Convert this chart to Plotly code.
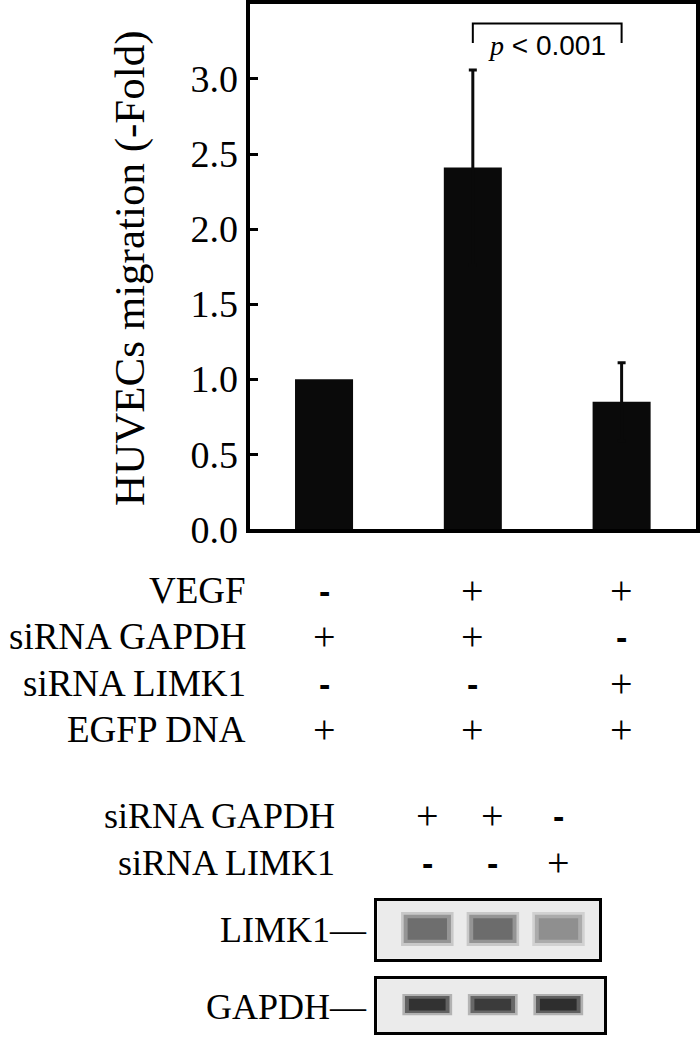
import plotly.graph_objects as go

# migration assay
groups = ["ctrl", "VEGF", "VEGF + siLIMK1"]
migration = [1.0, 2.41, 0.85]
migration_err = [None, 0.65, 0.26]
p_text = "p < 0.001"
bracket_top = 3.37
bracket_leg = 3.24

# treatment table under the bar chart
row_labels = ["VEGF", "siRNA GAPDH", "siRNA LIMK1", "EGFP DNA"]
row_signs = [
    ["-", "+", "+"],
    ["+", "+", "-"],
    ["-", "-", "+"],
    ["+", "+", "+"],
]

# western blot
blot_lanes = [0, 1, 2]
blot_row_labels = ["siRNA GAPDH", "siRNA LIMK1"]
blot_row_signs = [
    ["+", "+", "-"],
    ["-", "-", "+"],
]
limk1_intensity = [0.64, 0.65, 0.47]
gapdh_intensity = [0.88, 0.84, 0.9]

W, H = 700, 1055
SERIF = "Liberation Serif, Times New Roman, serif"
SANS = "Liberation Sans, Arial, sans-serif"
BAR_COLOR = "#0a0a0a"


def px_x(x):
    return x / W


def px_y(y):
    return 1 - y / H


def band_color(v, alpha):
    g = int(235 - 215 * v)
    return f"rgba({g},{g},{g},{alpha})"


def sign_text(s):
    return s if s == "+" else "<b>-</b>"


def sign_font(s):
    if s == "+":
        return {"family": SERIF, "size": 40, "color": "black"}
    return {"family": SANS, "size": 34, "color": "black"}


fig = go.Figure()

x_idx = list(range(len(groups)))
fig.add_trace(
    go.Bar(
        x=x_idx,
        y=migration,
        width=0.39,
        marker={"color": BAR_COLOR, "line": {"width": 0}},
        showlegend=False,
        hoverinfo="skip",
    )
)

# error bars only where an error was measured; the lower half hides inside the bar
err_x = [i for i, e in zip(x_idx, migration_err) if e is not None]
err_y = [m for m, e in zip(migration, migration_err) if e is not None]
err_v = [e for e in migration_err if e is not None]
fig.add_trace(
    go.Scatter(
        x=err_x,
        y=err_y,
        mode="markers",
        marker={"size": 1, "opacity": 0},
        error_y={"type": "data", "array": err_v, "color": BAR_COLOR,
                 "thickness": 3, "width": 4, "visible": True},
        showlegend=False,
        hoverinfo="skip",
    )
)

# significance bracket between VEGF and VEGF + siLIMK1
fig.add_trace(
    go.Scatter(
        x=[1, 1, 2, 2],
        y=[bracket_leg, bracket_top, bracket_top, bracket_leg],
        mode="lines",
        line={"color": "black", "width": 2},
        showlegend=False,
        hoverinfo="skip",
    )
)

# blot bands: stacked bars per band for a soft edge
limk1_layers = [(0.80, 0.22, 0.59, 0.25), (0.72, 0.27, 0.49, 0.5), (0.6, 0.33, 0.37, 0.75)]
gapdh_layers = [(0.76, 0.32, 0.40, 0.3), (0.68, 0.36, 0.32, 0.6), (0.56, 0.41, 0.22, 0.9)]
for lane, v in zip(blot_lanes, limk1_intensity):
    for w, base, h, a in limk1_layers:
        fig.add_trace(
            go.Bar(
                x=[lane], y=[h], base=[base], width=w,
                marker={"color": band_color(v, a), "line": {"width": 0}},
                xaxis="x2", yaxis="y2", showlegend=False, hoverinfo="skip",
            )
        )
for lane, v in zip(blot_lanes, gapdh_intensity):
    for w, base, h, a in gapdh_layers:
        fig.add_trace(
            go.Bar(
                x=[lane], y=[h], base=[base], width=w,
                marker={"color": band_color(v, a), "line": {"width": 0}},
                xaxis="x3", yaxis="y3", showlegend=False, hoverinfo="skip",
            )
        )

annotations = []

# y title
annotations.append(dict(
    x=px_x(130), y=px_y(272), xref="paper", yref="paper",
    xanchor="center", yanchor="middle",
    text="HUVECs migration (-Fold)", textangle=-90, showarrow=False,
    font={"family": SERIF, "size": 43, "color": "black"},
))

# p value
annotations.append(dict(
    x=1.5, y=3.22, xref="x", yref="y", xanchor="center", yanchor="middle",
    text=f"<i><span style='font-family:{SERIF}'>p</span></i> {p_text[2:]}",
    showarrow=False,
    font={"family": SANS, "size": 28, "color": "black"},
))

# treatment table
row_y = [602, 649, 697, 744]
for label, signs, y in zip(row_labels, row_signs, row_y):
    annotations.append(dict(
        x=px_x(248), y=px_y(y), xref="paper", yref="paper",
        xanchor="right", yanchor="middle",
        text=label, showarrow=False,
        font={"family": SERIF, "size": 37, "color": "black"},
    ))
    for i, s in enumerate(signs):
        annotations.append(dict(
            x=x_idx[i], y=px_y(y), xref="x", yref="paper",
            xanchor="center", yanchor="middle",
            text=sign_text(s), showarrow=False, font=sign_font(s),
        ))

# blot header
blot_y = [832, 880]
for label, signs, y in zip(blot_row_labels, blot_row_signs, blot_y):
    annotations.append(dict(
        x=px_x(337), y=px_y(y), xref="paper", yref="paper",
        xanchor="right", yanchor="middle",
        text=label, showarrow=False,
        font={"family": SERIF, "size": 36, "color": "black"},
    ))
    for lane, s in zip(blot_lanes, signs):
        annotations.append(dict(
            x=lane, y=px_y(y), xref="x2", yref="paper",
            xanchor="center", yanchor="middle",
            text=sign_text(s), showarrow=False, font=sign_font(s),
        ))

for text, y in [("LIMK1—", 949), ("GAPDH—", 1027)]:
    annotations.append(dict(
        x=px_x(370), y=px_y(y), xref="paper", yref="paper",
        xanchor="right", yanchor="middle",
        text=text, showarrow=False,
        font={"family": SERIF, "size": 36, "color": "black"},
    ))

shapes = [
    dict(type="rect", xref="x2 domain", yref="y2 domain", x0=0, x1=1, y0=0, y1=1,
         fillcolor="#ebebeb", line={"width": 0}, layer="below"),
    dict(type="rect", xref="x3 domain", yref="y3 domain", x0=0, x1=1, y0=0, y1=1,
         fillcolor="#ebebeb", line={"width": 0}, layer="below"),
]

box_axis = dict(showline=True, linewidth=3, linecolor="black", mirror=True,
                showgrid=False, zeroline=False, showticklabels=False, ticks="")

fig.update_layout(
    width=W,
    height=H,
    margin={"l": 0, "r": 0, "t": 0, "b": 0},
    paper_bgcolor="white",
    plot_bgcolor="rgba(0,0,0,0)",
    barmode="overlay",
    showlegend=False,
    xaxis=dict(
        domain=[px_x(250), px_x(697)], range=[-0.5, 2.5],
        showline=True, linewidth=4, linecolor="black", mirror=True,
        showgrid=False, zeroline=False, showticklabels=False, ticks="",
    ),
    yaxis=dict(
        domain=[px_y(539), px_y(2)], range=[0, 3.5],
        showline=True, linewidth=4, linecolor="black", mirror=True,
        showgrid=False, zeroline=False,
        tickvals=[0, 0.5, 1.0, 1.5, 2.0, 2.5, 3.0], tickformat=".1f",
        ticks="inside", ticklen=8, tickwidth=3, tickcolor="black",
        tickfont={"family": SERIF, "size": 38, "color": "black"},
    ),
    xaxis2=dict(domain=[px_x(378), px_x(600)], range=[-0.76, 2.62], anchor="y2", **box_axis),
    yaxis2=dict(domain=[px_y(978), px_y(919)], range=[0, 1], anchor="x2", **box_axis),
    xaxis3=dict(domain=[px_x(378), px_x(605)], range=[-0.76, 2.7], anchor="y3", **box_axis),
    yaxis3=dict(domain=[px_y(1053), px_y(999)], range=[0, 1], anchor="x3", **box_axis),
    annotations=annotations,
    shapes=shapes,
)

# the page body has a default 8px margin; drop it so the figure fills the window
fig.write_html(
    "out.html",
    config={"displayModeBar": False},
    post_script="document.body.style.margin='0';",
)
